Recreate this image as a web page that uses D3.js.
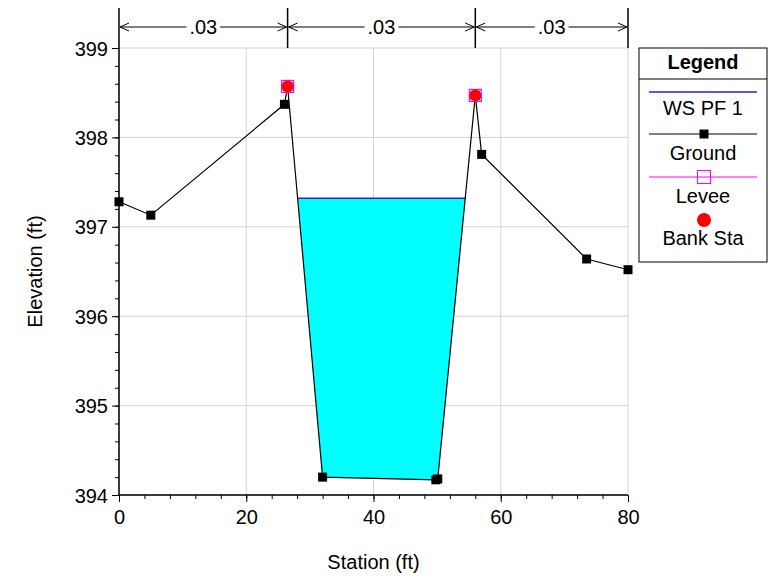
<!DOCTYPE html>
<html><head><meta charset="utf-8">
<script src="https://cdn.jsdelivr.net/npm/d3@7"></script>
<style>body{margin:0;background:#fff;}svg{display:block;font-family:"Liberation Sans",Arial,sans-serif;}</style>
</head><body>
<svg id="c" width="775" height="580"></svg>
<script>
const groundStation = [0, 5, 26, 26.5, 32, 49.8, 50.1, 56, 57, 73.5, 80];
const groundElev    = [397.28, 397.13, 398.37, 398.57, 394.2, 394.17, 394.18, 398.47, 397.81, 396.64, 396.52];
const leveeStation = [26.5, 56];
const leveeElev    = [398.57, 398.47];
const bankStation  = [26.5, 56];
const bankElev     = [398.57, 398.47];
const wsElev = 397.32;
const nBreaks = [0, 26.5, 56, 80];
const nValues = [".03", ".03", ".03"];
const xTicks = [0, 20, 40, 60, 80];
const yTicks = [394, 395, 396, 397, 398, 399];
const legendItems = ["WS PF 1", "Ground", "Levee", "Bank Sta"];

const FS = 20;
const svg = d3.select("#c");
const x = d3.scaleLinear().domain([0, 80]).range([119, 628]);
const y = d3.scaleLinear().domain([394, 399]).range([495, 48]);

// grid
const g = svg.append("g");
g.selectAll(".gx").data(xTicks).enter().append("line")
  .attr("x1", d => x(d)).attr("x2", d => x(d)).attr("y1", y(394)).attr("y2", y(399))
  .attr("stroke", "#d3d3d3").attr("stroke-width", 1);
g.selectAll(".gy").data(yTicks).enter().append("line")
  .attr("x1", x(0)).attr("x2", x(80)).attr("y1", d => y(d)).attr("y2", d => y(d))
  .attr("stroke", "#d3d3d3").attr("stroke-width", 1);

// water polygon: intersect WS with ground between banks
const pts = groundStation.map((s, i) => [s, groundElev[i]]);
const i0 = groundStation.indexOf(bankStation[0]);
const i1 = groundStation.indexOf(bankStation[1]);
function cross(a, b) { const t = (a[1] - wsElev) / (a[1] - b[1]); return a[0] + t * (b[0] - a[0]); }
const poly = [];
let xl = null, xr = null;
for (let i = i0; i < i1; i++) {
  const a = pts[i], b = pts[i + 1];
  if (a[1] > wsElev && b[1] <= wsElev) { xl = cross(a, b); poly.push([xl, wsElev]); }
  if (a[1] <= wsElev && i > i0) poly.push(a);
  if (a[1] <= wsElev && b[1] > wsElev) { xr = cross(a, b); poly.push([xr, wsElev]); }
}
svg.append("path").attr("d", d3.line().x(d => x(d[0])).y(d => y(d[1]))(poly) + "Z")
  .attr("fill", "#00ffff").attr("stroke", "none");
svg.append("line").attr("x1", x(xl)).attr("x2", x(xr)).attr("y1", y(wsElev)).attr("y2", y(wsElev))
  .attr("stroke", "#2020e0").attr("stroke-width", 1.5);

// ground line
svg.append("path").attr("d", d3.line().x(d => x(d[0])).y(d => y(d[1]))(pts))
  .attr("fill", "none").attr("stroke", "#000").attr("stroke-width", 1.2);
svg.selectAll(".gp").data(pts).enter().append("rect")
  .attr("x", d => x(d[0]) - 4.5).attr("y", d => y(d[1]) - 4.5).attr("width", 9).attr("height", 9).attr("fill", "#000");

// levee
svg.selectAll(".lv").data(leveeStation).enter().append("rect")
  .attr("x", (d) => x(d) - 6).attr("y", (d, i) => y(leveeElev[i]) - 6).attr("width", 12).attr("height", 12)
  .attr("fill", "none").attr("stroke", "#ff00ff").attr("stroke-width", 1.2);
// bank
svg.selectAll(".bk").data(bankStation).enter().append("circle")
  .attr("cx", d => x(d)).attr("cy", (d, i) => y(bankElev[i])).attr("r", 6).attr("fill", "#ff0000");

// axes
const xAxis = svg.append("g").attr("transform", `translate(0,${y(394)})`);
xAxis.call(d3.axisBottom(x).tickValues(d3.range(0, 81, 4)).tickSize(4).tickFormat(""));
xAxis.append("g").call(d3.axisBottom(x).tickValues(xTicks).tickSize(7).tickFormat(d3.format("d")));
xAxis.selectAll(".domain").attr("stroke", "#000").attr("d", `M${x(0)},0H${x(80)}`);
xAxis.selectAll("g").attr("font-size", FS);
xAxis.selectAll("text").attr("font-size", FS).attr("fill", "#000").attr("font-family", "Liberation Sans, Arial, sans-serif").attr("y", 22).attr("dy", "0.35em");

const yAxis = svg.append("g").attr("transform", `translate(${x(0)},0)`);
yAxis.call(d3.axisLeft(y).tickValues(d3.range(394, 399.01, 0.2)).tickSize(4).tickFormat(""));
yAxis.append("g").call(d3.axisLeft(y).tickValues(yTicks).tickSize(7).tickFormat(d3.format("d")));
yAxis.selectAll(".domain").attr("stroke", "#000").attr("d", `M0,${y(394)}V${y(399)}`);
yAxis.selectAll("g").attr("font-size", FS);
yAxis.selectAll("text").attr("font-size", FS).attr("fill", "#000").attr("font-family", "Liberation Sans, Arial, sans-serif").attr("x", -11).attr("dy", "0.35em");

// axis titles
svg.append("text").attr("x", (x(0) + x(80)) / 2).attr("y", 562).attr("dy", "0.35em").attr("text-anchor", "middle")
  .attr("font-size", FS).text("Station (ft)");
svg.append("text").attr("transform", `translate(35,${(y(394) + y(399)) / 2}) rotate(-90)`).attr("dy", "0.35em").attr("text-anchor", "middle")
  .attr("font-size", FS).text("Elevation (ft)");

// Manning's n markers
const ny = 27;
nBreaks.forEach(b => {
  svg.append("line").attr("x1", x(b)).attr("x2", x(b)).attr("y1", 8).attr("y2", y(399))
    .attr("stroke", "#000").attr("stroke-width", 1.5);
});
nValues.forEach((v, i) => {
  const a = x(nBreaks[i]), b = x(nBreaks[i + 1]), m = (a + b) / 2;
  const t = svg.append("text").attr("x", m).attr("y", ny).attr("dy", "0.35em").attr("text-anchor", "middle").attr("font-size", FS).text(v);
  const w = t.node().getComputedTextLength();
  svg.append("line").attr("x1", a + 1).attr("x2", m - w / 2 - 3).attr("y1", ny).attr("y2", ny).attr("stroke", "#000");
  svg.append("line").attr("x1", m + w / 2 + 3).attr("x2", b - 1).attr("y1", ny).attr("y2", ny).attr("stroke", "#000");
  svg.append("path").attr("d", `M${a + 10},${ny - 4}L${a + 1},${ny}L${a + 10},${ny + 4}`).attr("fill", "none").attr("stroke", "#000");
  svg.append("path").attr("d", `M${b - 10},${ny - 4}L${b - 1},${ny}L${b - 10},${ny + 4}`).attr("fill", "none").attr("stroke", "#000");
});

// legend
const L = svg.append("g");
const lx = 639, lw = 128, ly = 48, lh = 214;
L.append("rect").attr("x", lx).attr("y", ly).attr("width", lw).attr("height", lh).attr("fill", "#fff").attr("stroke", "#000");
L.append("line").attr("x1", lx).attr("x2", lx + lw).attr("y1", 79).attr("y2", 79).attr("stroke", "#000");
L.append("text").attr("x", lx + lw / 2).attr("y", 62).attr("dy", "0.35em").attr("text-anchor", "middle").attr("font-size", FS).attr("font-weight", "bold").text("Legend");
const cx = lx + lw / 2;
const symY = [92, 134, 177, 220];
const txtY = [108, 153, 196, 238];
L.append("line").attr("x1", 649).attr("x2", 757).attr("y1", symY[0]).attr("y2", symY[0]).attr("stroke", "#2020e0").attr("stroke-width", 1.5);
L.append("line").attr("x1", 649).attr("x2", 757).attr("y1", symY[1]).attr("y2", symY[1]).attr("stroke", "#000");
L.append("rect").attr("x", cx + 1 - 4.5).attr("y", symY[1] - 4.5).attr("width", 9).attr("height", 9).attr("fill", "#000");
L.append("line").attr("x1", 649).attr("x2", 757).attr("y1", symY[2]).attr("y2", symY[2]).attr("stroke", "#ff00ff");
L.append("rect").attr("x", cx + 1 - 6.5).attr("y", symY[2] - 6.5).attr("width", 13).attr("height", 13).attr("fill", "none").attr("stroke", "#ff00ff");
L.append("circle").attr("cx", cx + 1).attr("cy", symY[3]).attr("r", 7).attr("fill", "#ff0000");
legendItems.forEach((t, i) => {
  L.append("text").attr("x", cx).attr("y", txtY[i]).attr("dy", "0.35em").attr("text-anchor", "middle").attr("font-size", FS).text(t);
});
</script>
</body></html>
